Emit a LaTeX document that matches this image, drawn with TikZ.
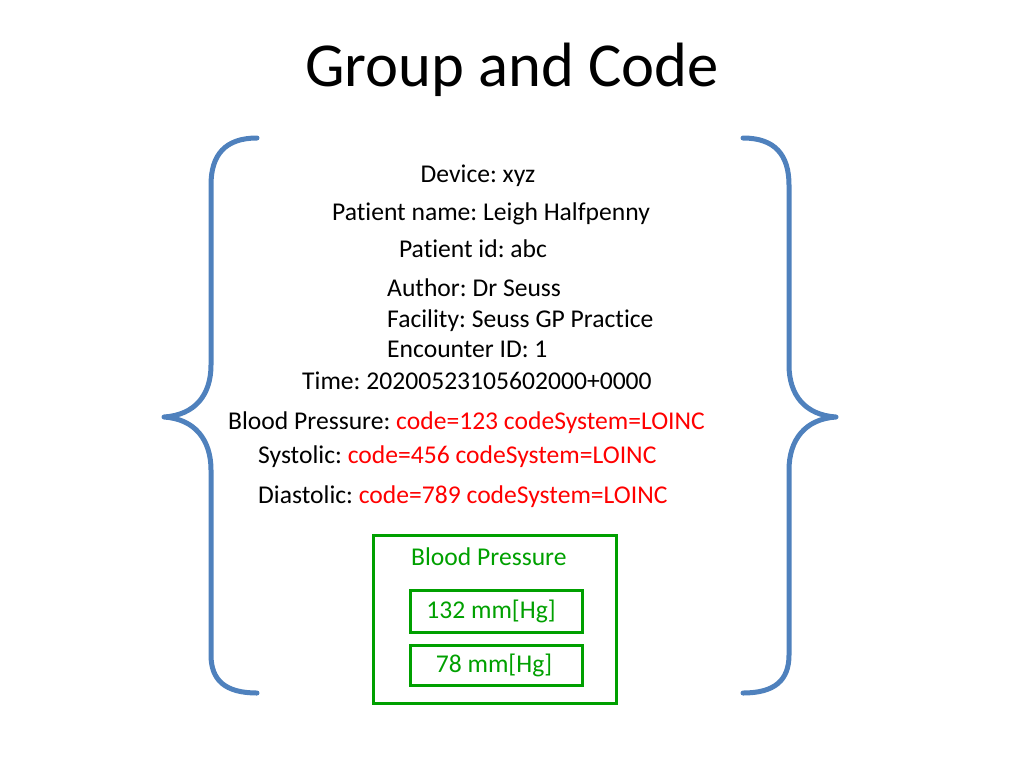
\documentclass[tikz,border=0pt]{standalone}
\usepackage{fontspec}
\setmainfont{Carlito}[Ligatures=NoCommon]
\usepackage{tikz}
\frenchspacing
\definecolor{braceblue}{RGB}{79,129,189}
\definecolor{codered}{RGB}{255,0,0}
\definecolor{boxgreen}{RGB}{0,160,0}
\newcommand{\cd}[1]{\textcolor{codered}{#1}}
\begin{document}
\begin{tikzpicture}[x=1pt, y=-1pt,
	info/.style={inner sep=0pt, font=\fontsize{25.6}{30}\selectfont},
	brace/.style={draw=braceblue, line width=5pt, line cap=round, line join=round},
	gbox/.style={draw=boxgreen, line width=3pt, inner sep=0pt, text=boxgreen, font=\fontsize{25.6}{30}\selectfont}]
					\useasboundingbox (0,0) rectangle (1024,768);
					\node[inner sep=0pt, anchor=base, font=\fontsize{62.6}{70}\selectfont] (title)at(512, 86) {Group and Code};
					\node[info, anchor=base] (dev)at(478, 182) {Device: xyz};
					\node[info, anchor=base] (pname)at(491, 220) {Patient name: Leigh Halfpenny};
					\node[info, anchor=base] (pid)at(473, 257) {Patient id: abc};
					\node[info, anchor=base west] (auth)at(387, 296) {Author: Dr Seuss};
					\node[info, anchor=base west] (fac)at(387, 327) {Facility: Seuss GP Practice};
					\node[info, anchor=base west] (enc)at(387, 357) {Encounter ID: 1};
					\node[info, anchor=base west] (time)at(302, 389) {Time: 20200523105602000+0000};
					\node[info, anchor=base west] (bpc)at(228, 429) {Blood Pressure: \cd{code=123 codeSystem=LOINC}};
					\node[info, anchor=base west] (sysc)at(258, 463) {Systolic: \cd{code=456 codeSystem=LOINC}};
					\node[info, anchor=base west] (diac)at(258, 503) {Diastolic: \cd{code=789 codeSystem=LOINC}};
					\node[gbox, minimum width=243pt, minimum height=168pt] (bp)at(494.5, 619) {};
					\node[info, text=boxgreen, anchor=base west] (bpl)at(411, 565) {Blood Pressure};
					\node[gbox, minimum width=172pt, minimum height=42pt] (sys)at(496, 611) {132 mm[Hg]\kern10pt};
					\node[gbox, minimum width=172pt, minimum height=40pt] (dia)at(496, 665) {78 mm[Hg]\kern4pt};
					\draw[brace] (257, 138) .. controls (225, 138) and (211, 155) .. (211, 185) -- (211, 365) .. controls (211, 395) and (195, 415) .. (164, 417) .. controls (195, 419) and (211, 440) .. (211, 470) -- (211, 655) .. controls (211, 680) and (225, 693) .. (257, 693);
					\draw[brace] (743, 138) .. controls (775, 138) and (789, 155) .. (789, 185) -- (789, 365) .. controls (789, 395) and (805, 415) .. (836, 417) .. controls (805, 419) and (789, 440) .. (789, 470) -- (789, 655) .. controls (789, 680) and (775, 693) .. (743, 693);
				\end{tikzpicture}
\end{document}
